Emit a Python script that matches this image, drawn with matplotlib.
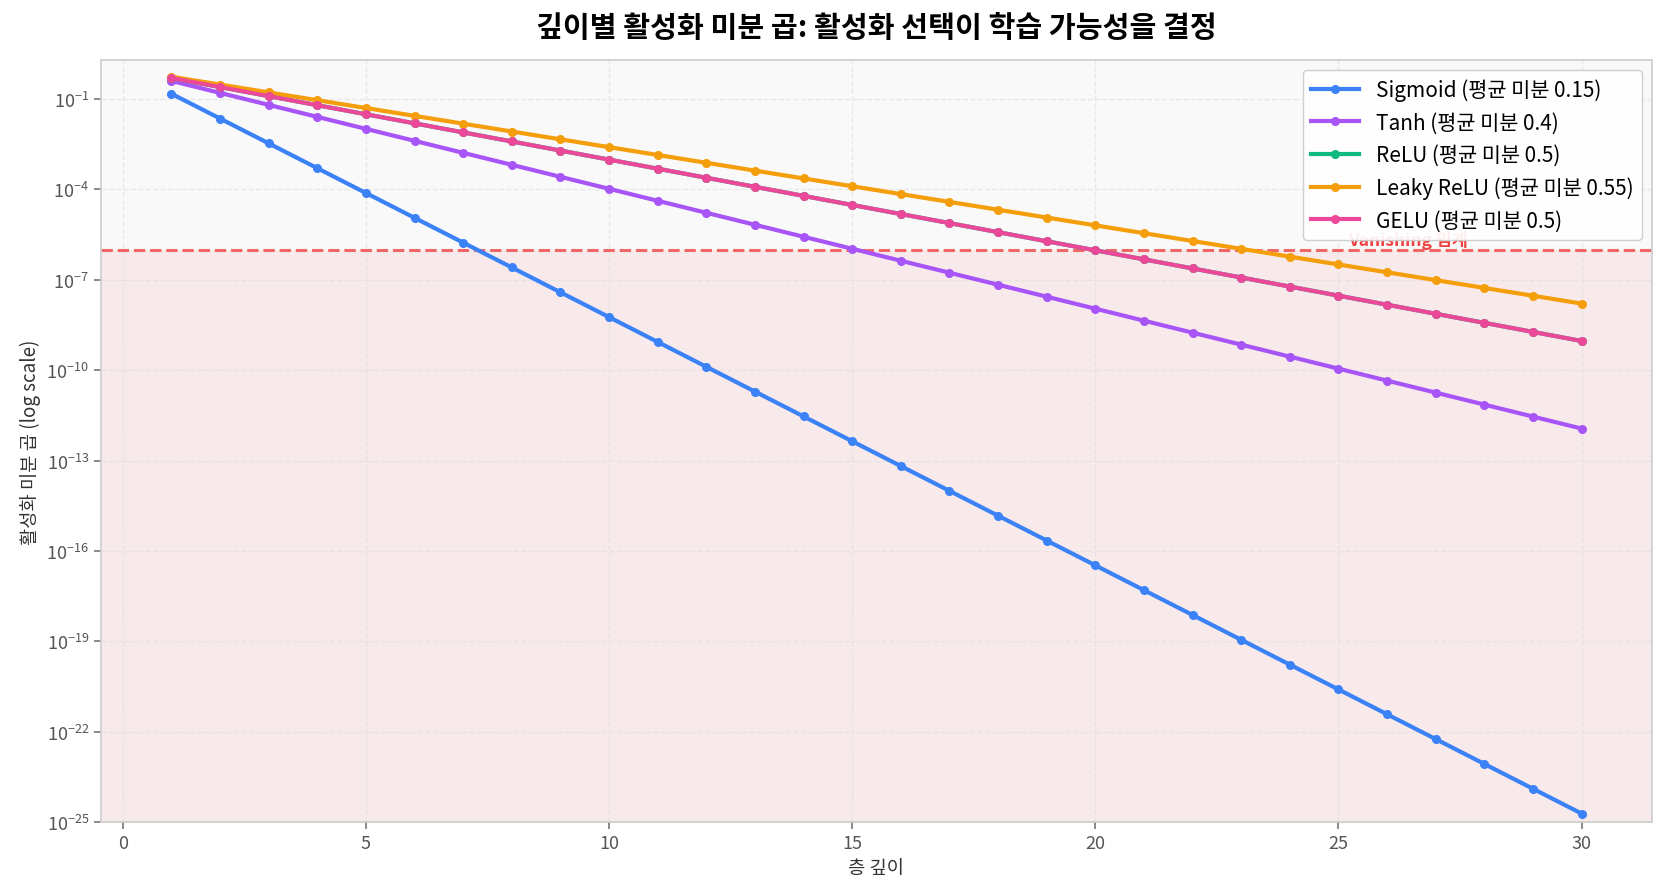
import matplotlib
matplotlib.use("Agg")
import matplotlib.pyplot as plt
from matplotlib.ticker import FixedLocator, NullLocator, FuncFormatter
import math

plt.rcParams['font.family'] = ['Noto Sans CJK KR', 'DejaVu Sans']
plt.rcParams['axes.unicode_minus'] = True

depth = list(range(1, 31))

sigmoid = [0.15, 0.0225, 3.375e-3, 5.0625e-4, 7.594e-5, 1.139e-5, 1.709e-6, 2.563e-7,
           3.844e-8, 5.767e-9, 8.650e-10, 1.297e-10, 1.946e-11, 2.919e-12, 4.379e-13,
           6.568e-14, 9.853e-15, 1.478e-15, 2.217e-16, 3.325e-17, 4.988e-18, 7.482e-19,
           1.122e-19, 1.683e-20, 2.525e-21, 3.788e-22, 5.682e-23, 8.522e-24, 1.278e-24,
           1.918e-25]
tanh = [0.4, 0.16, 0.064, 0.0256, 0.01024, 4.096e-3, 1.638e-3, 6.554e-4, 2.621e-4,
        1.049e-4, 4.194e-5, 1.678e-5, 6.711e-6, 2.684e-6, 1.074e-6, 4.295e-7, 1.718e-7,
        6.872e-8, 2.749e-8, 1.100e-8, 4.398e-9, 1.759e-9, 7.037e-10, 2.815e-10,
        1.126e-10, 4.504e-11, 1.801e-11, 7.206e-12, 2.882e-12, 1.153e-12]
relu = [0.5, 0.25, 0.125, 0.0625, 0.03125, 0.015625, 7.8125e-3, 3.906e-3, 1.953e-3,
        9.766e-4, 4.883e-4, 2.441e-4, 1.221e-4, 6.104e-5, 3.052e-5, 1.526e-5, 7.629e-6,
        3.815e-6, 1.907e-6, 9.537e-7, 4.768e-7, 2.384e-7, 1.192e-7, 5.960e-8, 2.980e-8,
        1.490e-8, 7.451e-9, 3.725e-9, 1.863e-9, 9.313e-10]
leaky_relu = [0.55, 0.3025, 0.1664, 0.09151, 0.05033, 0.02768, 0.01522, 8.373e-3,
              4.605e-3, 2.533e-3, 1.393e-3, 7.662e-4, 4.214e-4, 2.318e-4, 1.275e-4,
              7.011e-5, 3.856e-5, 2.121e-5, 1.167e-5, 6.416e-6, 3.529e-6, 1.941e-6,
              1.067e-6, 5.871e-7, 3.229e-7, 1.776e-7, 9.768e-8, 5.372e-8, 2.955e-8,
              1.625e-8]
gelu = [0.5, 0.25, 0.125, 0.0625, 0.03125, 0.015625, 7.8125e-3, 3.906e-3, 1.953e-3,
        9.766e-4, 4.883e-4, 2.441e-4, 1.221e-4, 6.104e-5, 3.052e-5, 1.526e-5, 7.629e-6,
        3.815e-6, 1.907e-6, 9.537e-7, 4.768e-7, 2.384e-7, 1.192e-7, 5.960e-8, 2.980e-8,
        1.490e-8, 7.451e-9, 3.725e-9, 1.863e-9, 9.313e-10]

series_names = ['Sigmoid (평균 미분 0.15)', 'Tanh (평균 미분 0.4)', 'ReLU (평균 미분 0.5)',
                'Leaky ReLU (평균 미분 0.55)', 'GELU (평균 미분 0.5)']
series_values = [sigmoid, tanh, relu, leaky_relu, gelu]
series_colors = ['#3b82f6', '#a855f7', '#10b981', '#f59e0b', '#ec4899']

threshold = 1e-6
y_ticks = [1e-1, 1e-4, 1e-7, 1e-10, 1e-13, 1e-16, 1e-19, 1e-22, 1e-25]
x_ticks = [0, 5, 10, 15, 20, 25, 30]

fig = plt.figure(figsize=(16.66, 8.95), dpi=100)
ax = fig.add_axes([0.0606, 0.0804, 0.9310, 0.8516])
ax.set_facecolor('white')

ax.set_yscale('log')
ax.set_ylim(1e-25, 2)

ax.axhspan(threshold, 2, color='#f9f9f9', zorder=0, lw=0)
ax.axhspan(1e-25, threshold, color='#f8eaeb', zorder=0, lw=0)

for name, vals, col in zip(series_names, series_values, series_colors):
    ax.plot(depth, vals, '-o', color=col, lw=3, ms=5.5, label=name, zorder=3)

ax.axhline(threshold, color='#ef4444', ls='--', lw=2.2, alpha=0.8, zorder=2)
ax.text(25.2, threshold * 1.03, 'Vanishing 임계', color='#ef4444', fontsize=12.5,
        fontweight='bold', ha='left', va='bottom', zorder=2)

ax.xaxis.set_major_locator(FixedLocator(x_ticks))
ax.yaxis.set_major_locator(FixedLocator(y_ticks))
ax.yaxis.set_minor_locator(NullLocator())

def fmt(v, pos):
    e = int(round(math.log10(v)))
    return r'$\mathdefault{10^{%d}}$' % e
ax.yaxis.set_major_formatter(FuncFormatter(fmt))

ax.grid(True, ls='--', color='#dddddd', alpha=0.6, lw=1)
ax.set_axisbelow(True)
for sp in ax.spines.values():
    sp.set_color('#cccccc')
    sp.set_linewidth(1.2)
ax.tick_params(colors='#555555', labelsize=13, length=5, width=1.2)
ax.tick_params(axis='both', color='#777777')

ax.set_xlabel('층 깊이', fontsize=13.5, color='#333333')
ax.set_ylabel('활성화 미분 곱 (log scale)', fontsize=13.5, color='#333333')
ax.set_title('깊이별 활성화 미분 곱: 활성화 선택이 학습 가능성을 결정', fontsize=21,
             fontweight='bold', pad=17)

leg = ax.legend(loc='upper right', fontsize=15, frameon=True, framealpha=0.92,
                edgecolor='#cccccc', fancybox=True, borderaxespad=0.5,
                handlelength=2.3)
leg.set_zorder(5)

fig.savefig('out.png', dpi=100)
